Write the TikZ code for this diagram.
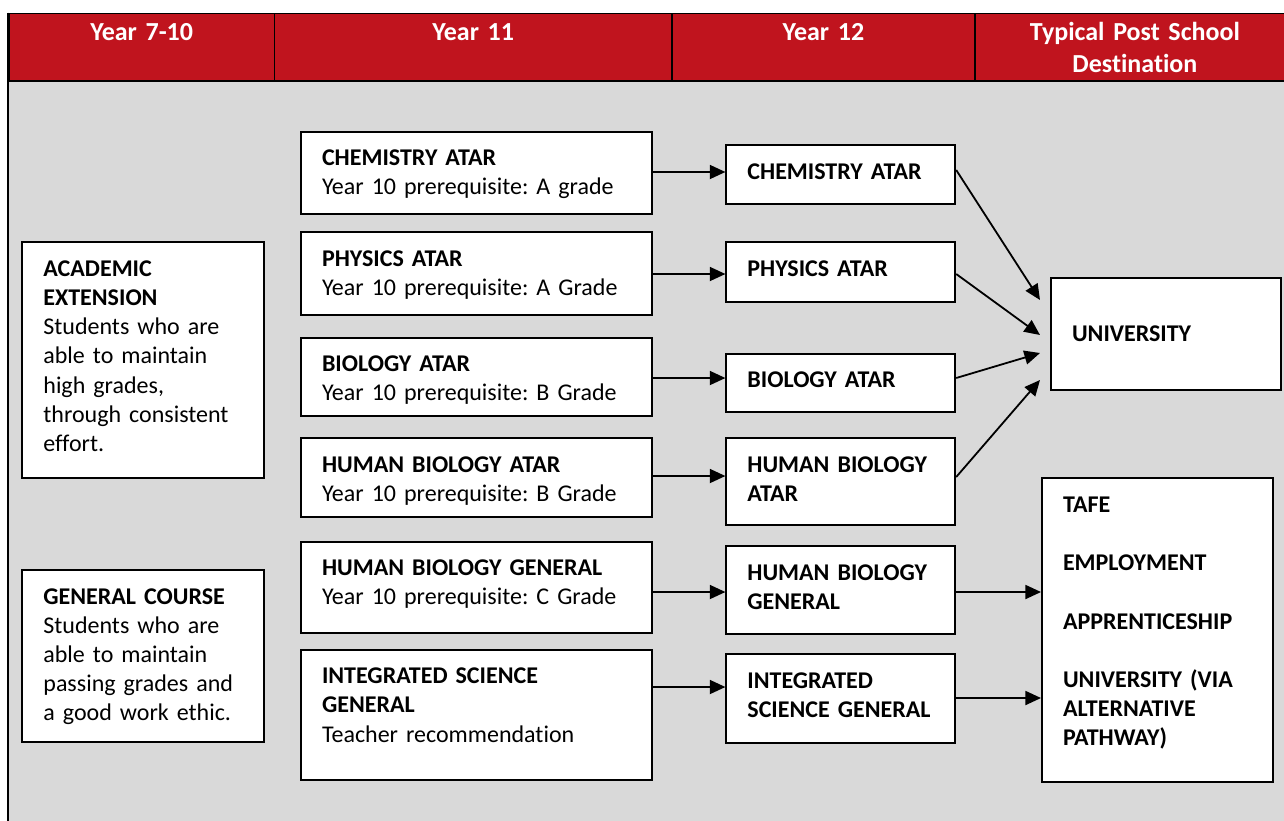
\documentclass[tikz,border=0pt]{standalone}
\usepackage{fontspec}
\setmainfont{Carlito}[Ligatures=NoCommon]
\frenchspacing
\usetikzlibrary{arrows.meta}

\tikzset{
  box/.style={draw=black, fill=white, line width=1pt, inner xsep=10.5pt, align=left,
    font=\fontsize{12}{14.6}\selectfont},
  course/.style={box, anchor=north west, inner ysep=9.3pt, text height=7.7pt},
  hdr/.style={draw=black, fill=kRed, line width=0.9pt, anchor=north west, text=white,
    align=center, inner xsep=0pt, inner ysep=5.35pt, text height=8.4pt,
    font=\bfseries\fontsize{13}{16}\selectfont},
  arr/.style={line width=0.9pt, -{Triangle[length=7.8pt,width=7pt]}}
}

% box from (x1,y1) to (x2,y2), text at the top left
\newcommand\coursebox[6]{%
  \pgfmathsetmacro\cbW{(#4-#2)*0.5-21}%
  \pgfmathsetmacro\cbD{(#5-#3)*0.5-26.3}%
  \node[course, text width=\cbW pt, text depth=\cbD pt] (#1) at (#2,#3) {#6};}
% header cell from x1 to x2
\newcommand\hdrcell[4]{%
  \pgfmathsetmacro\cbW{(#3-#2)*0.5}%
  \node[hdr, text width=\cbW pt, text depth=14.65pt] (#1) at (#2,12.5) {#4};}

\begin{document}
\begin{tikzpicture}[x=0.5pt,y=-0.5pt]
  % colors
  \definecolor{kRed}{RGB}{192,20,30}
  \definecolor{kGrey}{RGB}{217,217,217}
  \useasboundingbox (0,0) rectangle (1284,820);
  % background
  \fill[kGrey] (8,80) rectangle (1300,830);
  \draw[line width=0.9pt] (8,12.5) -- (8,830);

  % header
  \hdrcell{hyr7}{8}{273.6}{Year 7-10}
  \hdrcell{hyr11}{273.6}{671}{Year 11}
  \hdrcell{hyr12}{671}{974}{Year 12}
  \hdrcell{hdest}{974}{1294}{Typical Post School\\Destination}

  % year 7-10
  \coursebox{acad}{21.4}{241.3}{262.5}{477.3}{\textbf{ACADEMIC}\\\textbf{EXTENSION}\\Students who are\\able to maintain\\high grades,\\through consistent\\effort.}
  \coursebox{gen}{21.4}{569}{262.5}{741}{\textbf{GENERAL COURSE}\\Students who are\\able to maintain\\passing grades and\\a good work ethic.}

  % year 11
  \coursebox{c11}{300}{130.7}{651}{213.3}{\textbf{CHEMISTRY ATAR}\\Year 10 prerequisite: A grade}
  \coursebox{p11}{300}{231}{651}{314.3}{\textbf{PHYSICS ATAR}\\Year 10 prerequisite: A Grade}
  \coursebox{b11}{300}{336.7}{651}{414.7}{\textbf{BIOLOGY ATAR}\\Year 10 prerequisite: B Grade}
  \coursebox{h11}{300}{437.3}{651}{516}{\textbf{HUMAN BIOLOGY ATAR}\\Year 10 prerequisite: B Grade}
  \coursebox{g11}{300}{540.7}{651}{632.3}{\textbf{HUMAN BIOLOGY GENERAL}\\Year 10 prerequisite: C Grade}
  \coursebox{i11}{300}{648.7}{651}{779}{\textbf{INTEGRATED SCIENCE}\\\textbf{GENERAL}\\Teacher recommendation}

  % year 12
  \coursebox{c12}{725.4}{144}{954.2}{203.3}{\textbf{CHEMISTRY ATAR}}
  \coursebox{p12}{725.4}{241.3}{954.2}{301}{\textbf{PHYSICS ATAR}}
  \coursebox{b12}{725.4}{352.7}{954.2}{411}{\textbf{BIOLOGY ATAR}}
  \coursebox{h12}{725.4}{437.3}{954.2}{524.3}{\textbf{HUMAN BIOLOGY}\\\textbf{ATAR}}
  \coursebox{g12}{725.4}{545}{954.2}{632.7}{\textbf{HUMAN BIOLOGY}\\\textbf{GENERAL}}
  \coursebox{i12}{725.4}{653.3}{954.2}{741.7}{\textbf{INTEGRATED}\\\textbf{SCIENCE~GENERAL}}

  % destinations
  \node[box, anchor=west, minimum width=115pt, minimum height=56pt, text width=94pt]
    (uni) at (1050,334) {\textbf{UNIVERSITY}};
  \coursebox{tafe}{1041}{477.3}{1271.6}{781}{\textbf{TAFE}\\[14.6pt]\textbf{EMPLOYMENT}\\[14.6pt]\textbf{APPRENTICESHIP}\\[14.6pt]\textbf{UNIVERSITY (VIA}\\\textbf{ALTERNATIVE}\\\textbf{PATHWAY)}}

  % arrows
  \foreach \a/\b/\y in {c11/c12/172,p11/p12/274,b11/b12/378,h11/h12/476,g11/g12/592,i11/i12/687}
    \draw[arr] (\a.east |- 0,\y) -- (\b.west |- 0,\y);
  \foreach \a/\ys/\ye in {c12/170/300,p12/274/335,b12/378/353,h12/477/380}
    \draw[arr] (\a.east |- 0,\ys) -- ([xshift=-5pt]uni.west |- 0,\ye);
  \foreach \a/\y in {g12/592,i12/698}
    \draw[arr] (\a.east |- 0,\y) -- (tafe.west |- 0,\y);
\end{tikzpicture}
\end{document}
